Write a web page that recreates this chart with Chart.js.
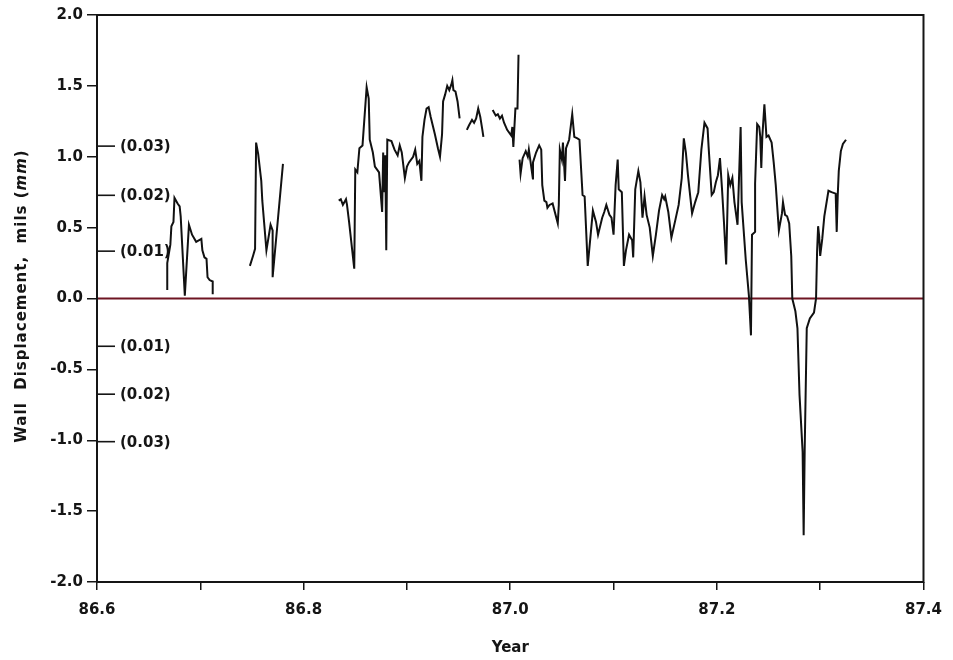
<!DOCTYPE html>
<html>
<head>
<meta charset="utf-8">
<script src="https://cdn.jsdelivr.net/npm/chart.js@4.4.1/dist/chart.umd.min.js"></script>
<style>
  html, body { margin: 0; padding: 0; background: #fff; }
  #wrap { width: 953px; height: 660px; position: relative; }
</style>
</head>
<body>
<div id="wrap"><canvas id="grafico"></canvas></div>
<script>
// ─── DADOS: deslocamento da parede (mils) x ano ─────────────────────────────
// null em mils = trecho sem medição (quebra a linha)
var anos = [
  86.668, 86.668, 86.671, 86.672, 86.674, 86.675, 86.678, 86.680, 86.681, 86.685,
  86.689, 86.692, 86.696, 86.701, 86.702, 86.704, 86.706, 86.707, 86.709, 86.712,
  86.712, 86.730,
  86.748, 86.751, 86.753, 86.754, 86.756, 86.759, 86.760, 86.764, 86.768, 86.770,
  86.770, 86.780, 86.800,
  86.834, 86.836, 86.838, 86.841, 86.842, 86.844, 86.849, 86.850, 86.852, 86.854,
  86.857, 86.861, 86.863, 86.864, 86.867, 86.869, 86.873, 86.876, 86.877, 86.878,
  86.879, 86.880, 86.881, 86.885, 86.888, 86.891, 86.893, 86.895, 86.898, 86.900,
  86.902, 86.906, 86.908, 86.910, 86.912, 86.914, 86.915, 86.917, 86.919, 86.921,
  86.923, 86.927, 86.930, 86.932, 86.934, 86.935, 86.937, 86.939, 86.941, 86.943,
  86.944, 86.945, 86.947, 86.949, 86.951, 86.955,
  86.958, 86.960, 86.963, 86.965, 86.967, 86.969, 86.971, 86.973, 86.974, 86.978,
  86.983, 86.986, 86.988, 86.990, 86.992, 86.994, 86.997, 87.001, 87.002, 87.003,
  87.005, 87.007, 87.008, 87.0085,
  87.009, 87.010, 87.012, 87.015, 87.017, 87.018, 87.022, 87.022, 87.025, 87.028,
  87.030, 87.031, 87.033, 87.035, 87.036, 87.038, 87.041, 87.046, 87.047, 87.048,
  87.050, 87.051, 87.053, 87.054, 87.057, 87.060, 87.062, 87.065, 87.067, 87.070,
  87.072, 87.075, 87.080, 87.083, 87.085, 87.089, 87.091, 87.093, 87.096, 87.098,
  87.100, 87.102, 87.104, 87.105, 87.108, 87.110, 87.112, 87.115, 87.118, 87.119,
  87.121, 87.124, 87.126, 87.128, 87.130, 87.132, 87.135, 87.138, 87.141, 87.144,
  87.147, 87.149, 87.150, 87.153, 87.156, 87.160, 87.163, 87.166, 87.168, 87.170,
  87.172, 87.176, 87.179, 87.182, 87.185, 87.188, 87.191, 87.192, 87.195, 87.197,
  87.199, 87.201, 87.203, 87.205, 87.207, 87.209, 87.211, 87.213, 87.215, 87.217,
  87.220, 87.223, 87.224, 87.228, 87.231, 87.233, 87.234, 87.237, 87.237, 87.239,
  87.241, 87.242, 87.243, 87.244, 87.246, 87.248, 87.250, 87.253, 87.255, 87.257,
  87.260, 87.263, 87.264, 87.266, 87.268, 87.270, 87.272, 87.273, 87.276, 87.278,
  87.280, 87.283, 87.284, 87.285, 87.287, 87.290, 87.294, 87.296, 87.297, 87.298,
  87.299, 87.300, 87.302, 87.304, 87.308, 87.311, 87.315, 87.316, 87.317, 87.318,
  87.320, 87.322, 87.325
];
var mils = [
  0.06, 0.25, 0.38, 0.51, 0.54, 0.71, 0.67, 0.65, 0.58, 0.02,
  0.52, 0.45, 0.40, 0.42, 0.34, 0.29, 0.28, 0.15, 0.13, 0.12,
  0.03, null,
  0.23, 0.30, 0.35, 1.10, 1.02, 0.83, 0.69, 0.34, 0.52, 0.48,
  0.15, 0.95, null,
  0.69, 0.70, 0.66, 0.70, 0.66, 0.54, 0.21, 0.91, 0.89, 1.06,
  1.08, 1.49, 1.41, 1.12, 1.03, 0.93, 0.89, 0.61, 1.03, 0.75,
  1.01, 0.34, 1.12, 1.11, 1.05, 1.01, 1.08, 1.03, 0.85, 0.93,
  0.96, 1.00, 1.05, 0.95, 0.97, 0.83, 1.14, 1.26, 1.34, 1.35,
  1.28, 1.16, 1.06, 1.00, 1.16, 1.39, 1.44, 1.50, 1.47, 1.51,
  1.54, 1.47, 1.46, 1.39, 1.27, null,
  1.19, 1.22, 1.26, 1.24, 1.27, 1.34, 1.28, 1.19, 1.14, null,
  1.33, 1.29, 1.30, 1.27, 1.29, 1.24, 1.19, 1.15, 1.21, 1.07,
  1.34, 1.34, 1.72, null,
  0.98, 0.88, 0.99, 1.04, 1.00, 1.05, 0.84, 0.96, 1.03, 1.08,
  1.05, 0.80, 0.69, 0.68, 0.64, 0.66, 0.67, 0.53, 0.66, 1.05,
  0.98, 1.10, 0.83, 1.06, 1.12, 1.30, 1.14, 1.13, 1.12, 0.73,
  0.72, 0.23, 0.62, 0.54, 0.45, 0.57, 0.61, 0.66, 0.59, 0.57,
  0.45, 0.80, 0.98, 0.77, 0.75, 0.23, 0.34, 0.45, 0.41, 0.29,
  0.77, 0.90, 0.82, 0.57, 0.72, 0.59, 0.50, 0.30, 0.45, 0.62,
  0.73, 0.70, 0.72, 0.61, 0.43, 0.56, 0.66, 0.85, 1.13, 1.03,
  0.87, 0.60, 0.68, 0.75, 1.05, 1.24, 1.20, 1.07, 0.73, 0.75,
  0.82, 0.87, 0.99, 0.77, 0.52, 0.24, 0.87, 0.80, 0.85, 0.68,
  0.52, 1.21, 0.68, 0.27, 0.02, -0.26, 0.45, 0.47, 0.81, 1.23,
  1.21, 1.14, 0.92, 1.14, 1.37, 1.14, 1.15, 1.10, 0.96, 0.80,
  0.48, 0.60, 0.68, 0.59, 0.58, 0.53, 0.30, 0.00, -0.09, -0.21,
  -0.68, -1.08, -1.67, -1.07, -0.21, -0.14, -0.10, 0.00, 0.33, 0.51,
  0.44, 0.30, 0.42, 0.58, 0.76, 0.75, 0.74, 0.47, 0.73, 0.90,
  1.04, 1.09, 1.12
];

// escala secundária em mm (marcas internas no eixo esquerdo)
var mmPosicoes = [1.075, 0.728, 0.334, -0.337, -0.675, -1.01];
var mmTextos = ['(0.03)', '(0.02)', '(0.01)', '(0.01)', '(0.02)', '(0.03)'];

var xMin = 86.6, xMax = 87.4;
var yMin = -2.0, yMax = 2.0;

var FONTE = '"DejaVu Sans", sans-serif';
var TINTA = '#151515';

var pontos = anos.map(function(a, i) { return { x: a, y: mils[i] }; });

// ─── plugin: linha do zero, marcas em mm, moldura e títulos ───
var molduraPlugin = {
  id: 'moldura',
  beforeDatasetsDraw: function(chart) {
    var ctx = chart.ctx, area = chart.chartArea, sy = chart.scales.y;
    var y0 = sy.getPixelForValue(0);
    ctx.save();
    ctx.strokeStyle = '#6e1522';
    ctx.lineWidth = 2.2;
    ctx.beginPath(); ctx.moveTo(area.left, y0); ctx.lineTo(area.right, y0); ctx.stroke();

    ctx.strokeStyle = TINTA;
    ctx.lineWidth = 1.6;
    ctx.fillStyle = TINTA;
    ctx.font = 'bold 15px ' + FONTE;
    ctx.textAlign = 'left';
    ctx.textBaseline = 'middle';
    mmPosicoes.forEach(function(v, i) {
      var py = sy.getPixelForValue(v);
      ctx.beginPath(); ctx.moveTo(area.left, py); ctx.lineTo(area.left + 18, py); ctx.stroke();
      ctx.fillText(mmTextos[i], area.left + 23, py + 1);
    });
    ctx.restore();
  },
  afterDraw: function(chart) {
    var ctx = chart.ctx, area = chart.chartArea;
    ctx.save();
    ctx.strokeStyle = TINTA;
    ctx.lineWidth = 2;
    ctx.strokeRect(area.left, area.top, area.right - area.left, area.bottom - area.top);

    ctx.fillStyle = TINTA;
    ctx.textBaseline = 'middle';
    ctx.textAlign = 'center';
    ctx.font = 'bold 15px ' + FONTE;
    ctx.fillText('Year', (area.left + area.right) / 2, 648);

    // título do eixo y, com "mm" em itálico
    var partes = [
      { t: 'Wall  Displacement,  mils (', f: 'bold 15px ' + FONTE },
      { t: 'mm', f: 'italic bold 15px ' + FONTE },
      { t: ')', f: 'bold 15px ' + FONTE }
    ];
    ctx.letterSpacing = '1px';
    var total = 0;
    partes.forEach(function(p) { ctx.font = p.f; p.w = ctx.measureText(p.t).width; total += p.w; });
    ctx.translate(22, 296);
    ctx.rotate(-Math.PI / 2);
    ctx.textAlign = 'left';
    var cx = -total / 2;
    partes.forEach(function(p) { ctx.font = p.f; ctx.fillText(p.t, cx, 0); cx += p.w; });
    ctx.restore();
  }
};

var ctxG = document.getElementById('grafico').getContext('2d');
var grafico = new Chart(ctxG, {
  type: 'line',
  data: {
    datasets: [{
      data: pontos,
      borderColor: '#111',
      borderWidth: 2,
      pointRadius: 0,
      tension: 0,
      spanGaps: false,
      fill: false
    }]
  },
  options: {
    responsive: true,
    maintainAspectRatio: false,
    animation: false,
    layout: { padding: { left: 0, right: 28, top: 15, bottom: 0 } },
    plugins: { legend: { display: false }, tooltip: { enabled: false } },
    scales: {
      x: {
        type: 'linear',
        min: xMin, max: xMax,
        afterFit: function(s) { s.height = 78; },
        border: { display: false },
        grid: { drawOnChartArea: false, drawTicks: true, tickLength: 8, color: TINTA, lineWidth: 1.5 },
        ticks: {
          stepSize: 0.1,
          padding: 11,
          maxRotation: 0,
          autoSkip: false,
          color: TINTA,
          font: { family: FONTE, size: 15, weight: 'bold' },
          callback: function(v) {
            var k = Math.round(v * 10);
            return (k % 2 === 0) ? (k / 10).toFixed(1) : '';
          }
        }
      },
      y: {
        type: 'linear',
        min: yMin, max: yMax,
        afterFit: function(s) { s.width = 97; },
        border: { display: false },
        grid: { drawOnChartArea: false, drawTicks: true, tickLength: 10, color: TINTA, lineWidth: 1.5 },
        ticks: {
          stepSize: 0.5,
          padding: 4,
          color: TINTA,
          font: { family: FONTE, size: 15, weight: 'bold' },
          callback: function(v) { return v.toFixed(1); }
        }
      }
    }
  },
  plugins: [molduraPlugin]
});
</script>
</body>
</html>
